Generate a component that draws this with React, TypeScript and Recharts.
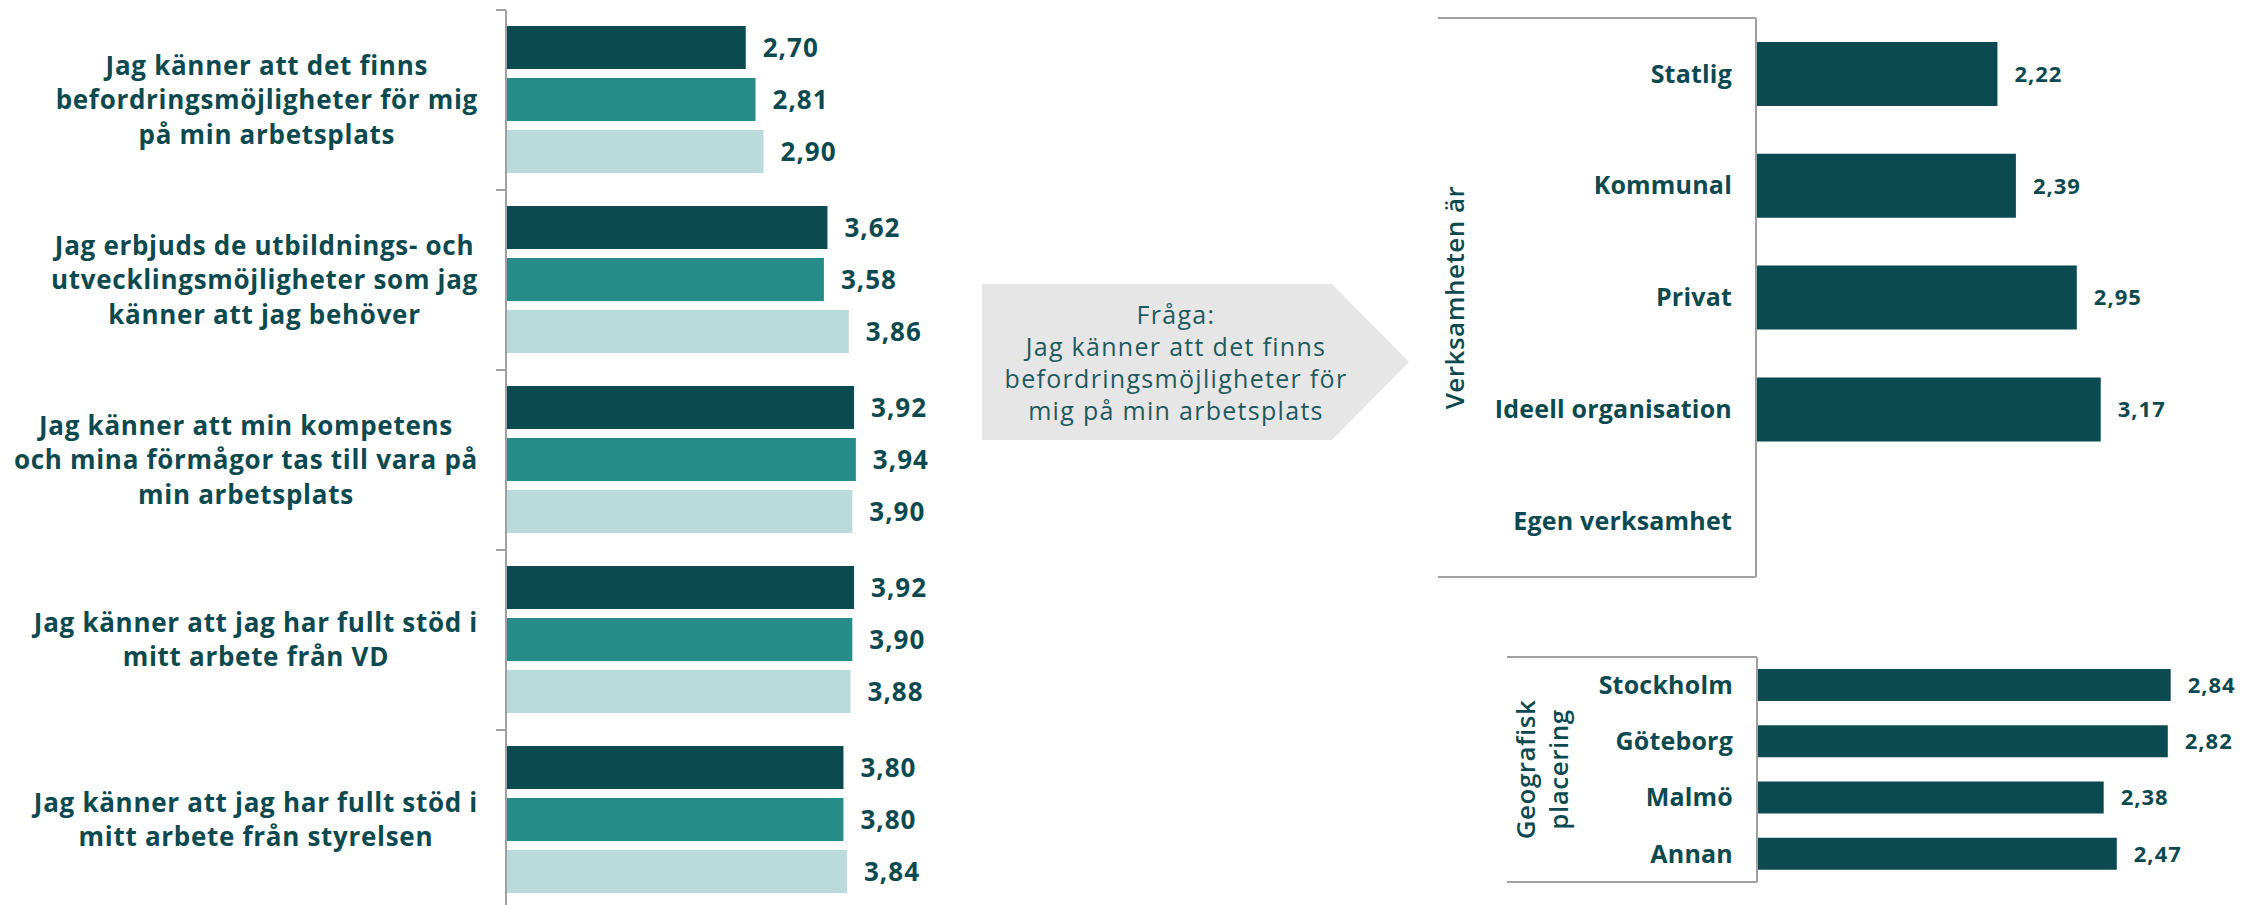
import React from 'react';
import { BarChart, Bar, XAxis, YAxis, LabelList } from 'recharts';

// --- data ---------------------------------------------------------------
const questions = [
  'Jag känner att det finns\nbefordringsmöjligheter för mig\npå min arbetsplats',
  'Jag erbjuds de utbildnings- och\nutvecklingsmöjligheter som jag\nkänner att jag behöver',
  'Jag känner att min kompetens\noch mina förmågor tas till vara på\nmin arbetsplats',
  'Jag känner att jag har fullt stöd i\nmitt arbete från VD',
  'Jag känner att jag har fullt stöd i\nmitt arbete från styrelsen',
];
const serieA = [2.7, 3.62, 3.92, 3.92, 3.8];
const serieB = [2.81, 3.58, 3.94, 3.9, 3.8];
const serieC = [2.9, 3.86, 3.9, 3.88, 3.84];

const verksamhetTyper = ['Statlig', 'Kommunal', 'Privat', 'Ideell organisation', 'Egen verksamhet'];
const verksamhetVarden: (number | null)[] = [2.22, 2.39, 2.95, 3.17, null];
const verksamhetTitel = ['Verksamheten är'];

const orter = ['Stockholm', 'Göteborg', 'Malmö', 'Annan'];
const ortVarden = [2.84, 2.82, 2.38, 2.47];
const ortTitel = ['Geografisk', 'placering'];

const fragaRader = ['Fråga:', 'Jag känner att det finns', 'befordringsmöjligheter för', 'mig på min arbetsplats'];

// --- styling ------------------------------------------------------------
const DARK = '#0b4a50';
const TEAL = '#268c88';
const LIGHT = '#badbd9';
const TEXT = '#0d4a4f';
const AXIS = '#a0a0a0';
const FONT = '"Open Sans", Lato, sans-serif';

const questionData = questions.map((q, i) => ({ name: q, a: serieA[i], b: serieB[i], c: serieC[i] }));
const verksamhetData = verksamhetTyper.map((n, i) => ({ name: n, v: verksamhetVarden[i] }));
const ortData = orter.map((n, i) => ({ name: n, v: ortVarden[i] }));

const fmt = (v: any) => (v == null ? '' : Number(v).toFixed(2).replace('.', ','));

let measureCtx: CanvasRenderingContext2D | null = null;
function textWidth(s: string, font: string, spacing: number) {
  if (!measureCtx) measureCtx = document.createElement('canvas').getContext('2d');
  if (!measureCtx) return s.length * 14;
  measureCtx.font = font;
  return measureCtx.measureText(s).width + s.length * spacing;
}

// left chart geometry
const L_AXIS_X = 506;
const L_TOP = 10;
const L_PLOT_H = 900;
const L_BAND = L_PLOT_H / questions.length;
const L_LABEL_RIGHT = 478;
const L_LINE_H = 34.5;
const L_FONT_SIZE = 26;
const L_SPACING = 0.7;

function QuestionTick(props: any) {
  const { y, payload, index } = props;
  const lines = String(payload.value).split('\n');
  const font = `700 ${L_FONT_SIZE}px "Open Sans"`;
  const maxW = Math.max(...lines.map((l) => textWidth(l, font, L_SPACING)));
  const cx = L_LABEL_RIGHT - maxW / 2;
  const y0 = y - ((lines.length - 1) * L_LINE_H) / 2;
  return (
    <g>
      <line x1={L_AXIS_X - 10} x2={L_AXIS_X} y1={y - L_BAND / 2} y2={y - L_BAND / 2} stroke={AXIS} strokeWidth={2} />
      {index === questions.length - 1 && (
        <line x1={L_AXIS_X - 10} x2={L_AXIS_X} y1={y + L_BAND / 2} y2={y + L_BAND / 2} stroke={AXIS} strokeWidth={2} />
      )}
      <text
        textAnchor="middle"
        fill={TEXT}
        fontSize={L_FONT_SIZE}
        fontWeight={700}
        fontFamily={FONT}
        letterSpacing={L_SPACING}
      >
        {lines.map((l, i) => (
          <tspan key={i} x={cx} y={y0 + i * L_LINE_H} dy="0.35em">
            {l}
          </tspan>
        ))}
      </text>
    </g>
  );
}

// framed category tick used by the two right charts
function makeFrameTick(axisX: number, frameLeft: number, band: number, count: number) {
  return function FrameTick(props: any) {
    const { y, payload, index } = props;
    return (
      <g>
        {index === 0 && (
          <line x1={frameLeft} x2={axisX} y1={y - band / 2} y2={y - band / 2} stroke={AXIS} strokeWidth={2} />
        )}
        {index === count - 1 && (
          <line x1={frameLeft} x2={axisX} y1={y + band / 2} y2={y + band / 2} stroke={AXIS} strokeWidth={2} />
        )}
        <text
          x={axisX - 24}
          y={y}
          dy="0.35em"
          textAnchor="end"
          fill={TEXT}
          fontSize={25}
          fontWeight={700}
          fontFamily={FONT}
          letterSpacing={0.2}
        >
          {payload.value}
        </text>
      </g>
    );
  };
}

function AxisTitle(props: any) {
  const { viewBox, lines, offsets } = props;
  if (!viewBox) return null;
  const cy = viewBox.y + viewBox.height / 2;
  return (
    <g>
      {lines.map((l: string, i: number) => {
        const x = viewBox.x + offsets[i];
        return (
          <text
            key={i}
            x={x}
            y={cy}
            transform={`rotate(-90, ${x}, ${cy})`}
            textAnchor="middle"
            dominantBaseline="central"
            fill={TEXT}
            fontSize={26}
            fontWeight={600}
            fontFamily={FONT}
            letterSpacing={0.5}
          >
            {l}
          </text>
        );
      })}
    </g>
  );
}

const valueLabel = (size: number, spacing: number) => ({
  position: 'right' as const,
  offset: 17,
  formatter: fmt,
  fill: TEXT,
  fontSize: size,
  fontWeight: 700,
  fontFamily: FONT,
  letterSpacing: spacing,
});

// right charts geometry (a little room is left of each frame for the rotated titles)
const V_PAD = 18;
const V_PLOT_H = 559;
const V_BAND = V_PLOT_H / verksamhetTyper.length;
const O_PAD = 17;
const O_PLOT_H = 225;
const O_BAND = O_PLOT_H / orter.length;

const VerksamhetTick = makeFrameTick(318 + V_PAD, V_PAD, V_BAND, verksamhetTyper.length);
const OrtTick = makeFrameTick(250 + O_PAD, O_PAD, O_BAND, orter.length);

export default function App() {
  return (
    <div
      style={{
        position: 'absolute',
        left: 0,
        top: 0,
        width: 2242,
        height: 905,
        overflow: 'hidden',
        background: '#fff',
        fontFamily: FONT,
      }}
    >
      {/* left: three series per question */}
      <div style={{ position: 'absolute', left: 0, top: 0 }}>
        <BarChart
          width={950}
          height={L_TOP + L_PLOT_H}
          data={questionData}
          layout="vertical"
          margin={{ top: L_TOP, right: 0, bottom: 0, left: 0 }}
          barCategoryGap={16}
          barGap={9}
        >
          <XAxis type="number" domain={[0, 5]} hide />
          <YAxis
            type="category"
            dataKey="name"
            width={L_AXIS_X}
            interval={0}
            axisLine={{ stroke: AXIS, strokeWidth: 2 }}
            tickLine={false}
            tick={<QuestionTick />}
          />
          <Bar dataKey="a" fill={DARK} isAnimationActive={false}>
            <LabelList dataKey="a" {...valueLabel(26, 1)} />
          </Bar>
          <Bar dataKey="b" fill={TEAL} isAnimationActive={false}>
            <LabelList dataKey="b" {...valueLabel(26, 1)} />
          </Bar>
          <Bar dataKey="c" fill={LIGHT} isAnimationActive={false}>
            <LabelList dataKey="c" {...valueLabel(26, 1)} />
          </Bar>
        </BarChart>
      </div>

      {/* middle: question arrow */}
      <svg style={{ position: 'absolute', left: 0, top: 0 }} width={2242} height={905}>
        <polygon points="982,284 1332,284 1409,362 1332,440 982,440" fill="#e6e6e6" />
        <text textAnchor="middle" fill="#1f5a5d" fontSize={25} fontFamily={FONT} letterSpacing={1.3}>
          {fragaRader.map((r, i) => (
            <tspan key={i} x={1176} y={315 + i * 32} dy="0.35em">
              {r}
            </tspan>
          ))}
        </text>
      </svg>

      {/* right top: verksamhet */}
      <div style={{ position: 'absolute', left: 1438 - V_PAD, top: 0 }}>
        <BarChart
          width={753 + V_PAD}
          height={600}
          data={verksamhetData}
          layout="vertical"
          margin={{ top: 18, right: 0, bottom: 600 - 18 - V_PLOT_H, left: 0 }}
          barCategoryGap={24}
        >
          <XAxis type="number" domain={[0, 4]} hide />
          <YAxis
            type="category"
            dataKey="name"
            width={318 + V_PAD}
            interval={0}
            axisLine={{ stroke: AXIS, strokeWidth: 2 }}
            tickLine={false}
            tick={<VerksamhetTick />}
            label={<AxisTitle lines={verksamhetTitel} offsets={[16 + V_PAD]} />}
          />
          <Bar dataKey="v" fill={DARK} isAnimationActive={false}>
            <LabelList dataKey="v" {...valueLabel(22, 1)} />
          </Bar>
        </BarChart>
      </div>

      {/* right bottom: geografisk placering */}
      <div style={{ position: 'absolute', left: 1507 - O_PAD, top: 640 }}>
        <BarChart
          width={735 + O_PAD}
          height={260}
          data={ortData}
          layout="vertical"
          margin={{ top: 17, right: 48, bottom: 260 - 17 - O_PLOT_H, left: 0 }}
          barCategoryGap={12}
        >
          <XAxis type="number" domain={[0, 3]} hide />
          <YAxis
            type="category"
            dataKey="name"
            width={250 + O_PAD}
            interval={0}
            axisLine={{ stroke: AXIS, strokeWidth: 2 }}
            tickLine={false}
            tick={<OrtTick />}
            label={<AxisTitle lines={ortTitel} offsets={[18 + O_PAD, 51 + O_PAD]} />}
          />
          <Bar dataKey="v" fill={DARK} isAnimationActive={false}>
            <LabelList dataKey="v" {...valueLabel(22, 1)} />
          </Bar>
        </BarChart>
      </div>
    </div>
  );
}
